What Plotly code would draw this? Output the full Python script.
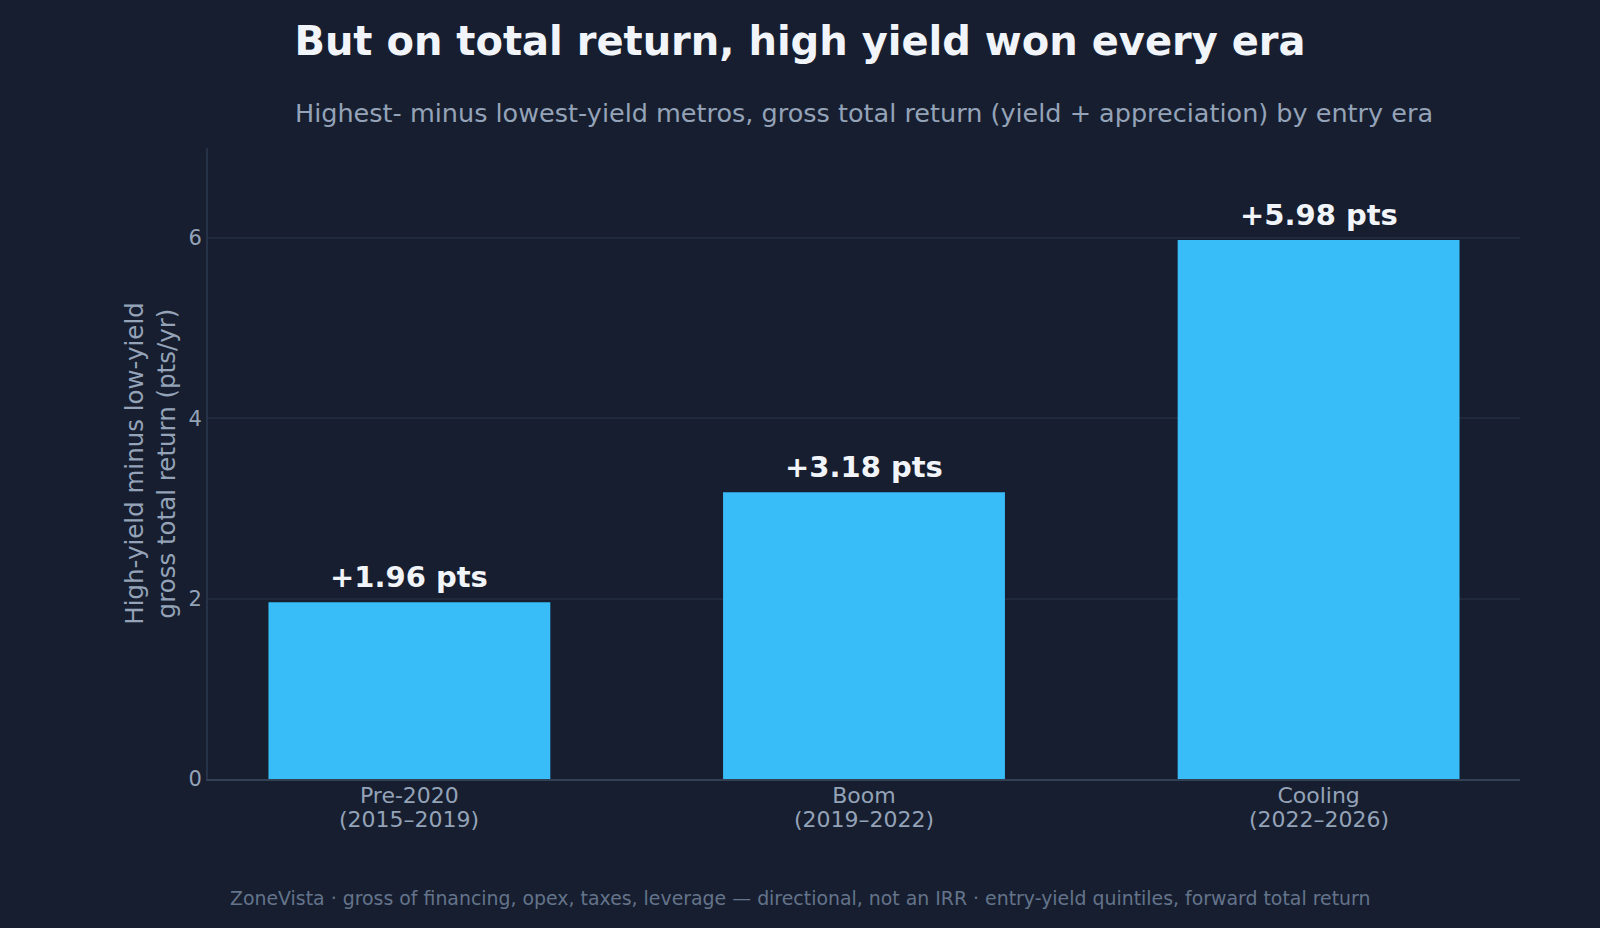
import plotly.graph_objects as go

era_names = ["Pre-2020", "Boom", "Cooling"]
era_years = ["(2015–2019)", "(2019–2022)", "(2022–2026)"]
values = [1.96, 3.18, 5.98]
labels = ["+1.96 pts", "+3.18 pts", "+5.98 pts"]
y_ticks = [0, 2, 4, 6]

BG = "#171e2f"
FONT = "DejaVu Sans"

fig = go.Figure()
fig.add_trace(go.Bar(
    x=era_names, y=values,
    marker=dict(color="#38bdf8", line=dict(width=0)),
    hoverinfo="skip",
))

for c, v, t in zip(era_names, values, labels):
    fig.add_annotation(
        x=c, y=v, xref="x", yref="y", text=f"<b>{t}</b>", showarrow=False,
        yanchor="bottom", yshift=6,
        font=dict(family=FONT, size=29, color="#f1f5f9"),
    )

for c, yr in zip(era_names, era_years):
    fig.add_annotation(
        x=c, y=0, xref="x", yref="paper", text=yr, showarrow=False,
        yanchor="middle", yshift=-40,
        font=dict(family=FONT, size=22, color="#94a3b8"),
    )

fig.add_annotation(
    x=0.5, y=1 + 35 / 631, xref="paper", yref="paper",
    text="Highest- minus lowest-yield metros, gross total return (yield + appreciation) by entry era",
    showarrow=False, yanchor="middle",
    font=dict(family=FONT, size=25.5, color="#94a3b8"),
)
fig.add_annotation(
    x=(800 - 208) / 1312, y=-119 / 631, xref="paper", yref="paper",
    text="ZoneVista · gross of financing, opex, taxes, leverage — directional, not an IRR · entry-yield quintiles, forward total return",
    showarrow=False, yanchor="middle",
    font=dict(family=FONT, size=18.9, color="#64748b"),
)

fig.update_layout(
    width=1600, height=928,
    paper_bgcolor=BG, plot_bgcolor=BG,
    margin=dict(l=208, r=80, t=148, b=149),
    showlegend=False,
    bargap=0.38,
    title=dict(
        text="<b>But on total return, high yield won every era</b>",
        x=0.5, xref="container", xanchor="center",
        y=1 - 41 / 928, yref="container", yanchor="middle",
        font=dict(family=FONT, size=40, color="#f1f5f9"),
    ),
    font=dict(family=FONT, color="#94a3b8"),
    xaxis=dict(
        range=[-0.443, 2.443],
        showline=True, linecolor="#334155", linewidth=2,
        showgrid=False, ticks="",
        ticklabelstandoff=-4,
        tickfont=dict(family=FONT, size=22, color="#94a3b8"),
    ),
    yaxis=dict(
        range=[0, 7], tickvals=y_ticks,
        showline=True, linecolor="#263248", linewidth=2,
        showgrid=True, gridcolor="#1f2a3c", gridwidth=2,
        zeroline=False, ticks="",
        tickfont=dict(family=FONT, size=21, color="#94a3b8"),
        title=dict(
            text="High-yield minus low-yield<br>gross total return (pts/yr)",
            font=dict(family=FONT, size=24.5, color="#94a3b8"),
            standoff=6,
        ),
    ),
)

fig.write_html(
    "out.html",
    config={"displayModeBar": False},
    post_script="document.body.style.margin='0';document.body.style.background='" + BG + "';",
)
